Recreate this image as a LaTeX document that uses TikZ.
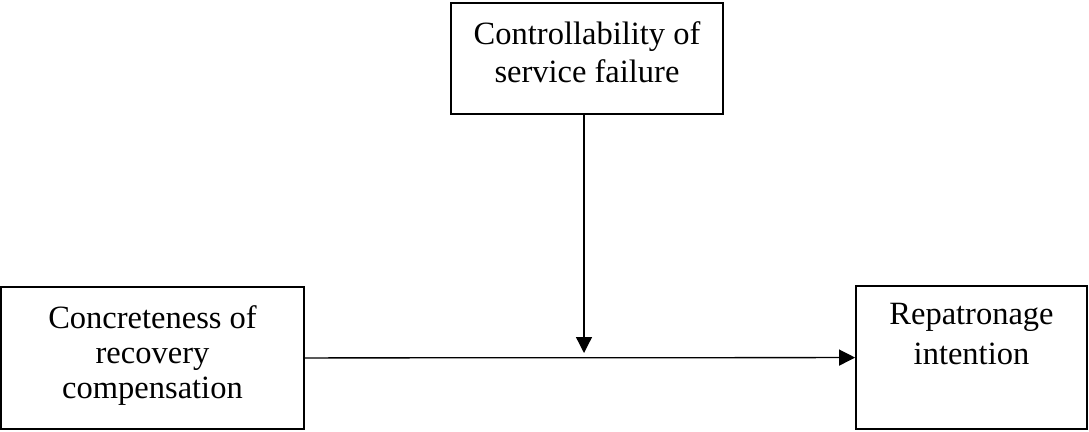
\documentclass[tikz,border=0pt]{standalone}
\usepackage{fontspec}
\setmainfont{Liberation Serif}
\usetikzlibrary{arrows.meta,calc}

\begin{document}
\begin{tikzpicture}[x=1pt,y=-1pt,
  box/.style={draw,line width=1.8pt,inner sep=0pt},
  txt/.style={anchor=north,inner sep=0pt,align=center},
  link/.style={line width=1.3pt,-{Triangle[length=16pt,width=16pt]}}]
\useasboundingbox (0,0) rectangle (1089,431);
\node[box,minimum width=272pt,minimum height=111pt] (tbox) at (587,58.5) {};
\node[box,minimum width=303pt,minimum height=142pt] (lbox) at (152.5,358) {};
\node[box,minimum width=231pt,minimum height=143pt] (rbox) at (971.5,357.5) {};
\node[txt,font=\fontsize{32.5}{38}\selectfont] (ttext) at ([yshift=-19pt]tbox.north) {Controllability of\\service failure};
\node[txt,font=\fontsize{32.5}{35}\selectfont] (ltext) at ([yshift=-19pt]lbox.north) {Concreteness of\\recovery\\compensation};
\node[txt,font=\fontsize{32.5}{39.5}\selectfont] (rtext) at ([yshift=-18pt]rbox.north) {Repatronage\\intention};
\coordinate (meet) at (584,353);
\draw[link] (lbox) -- (rbox);
\draw[link] (tbox.south -| meet) -- (meet);
\end{tikzpicture}
\end{document}
